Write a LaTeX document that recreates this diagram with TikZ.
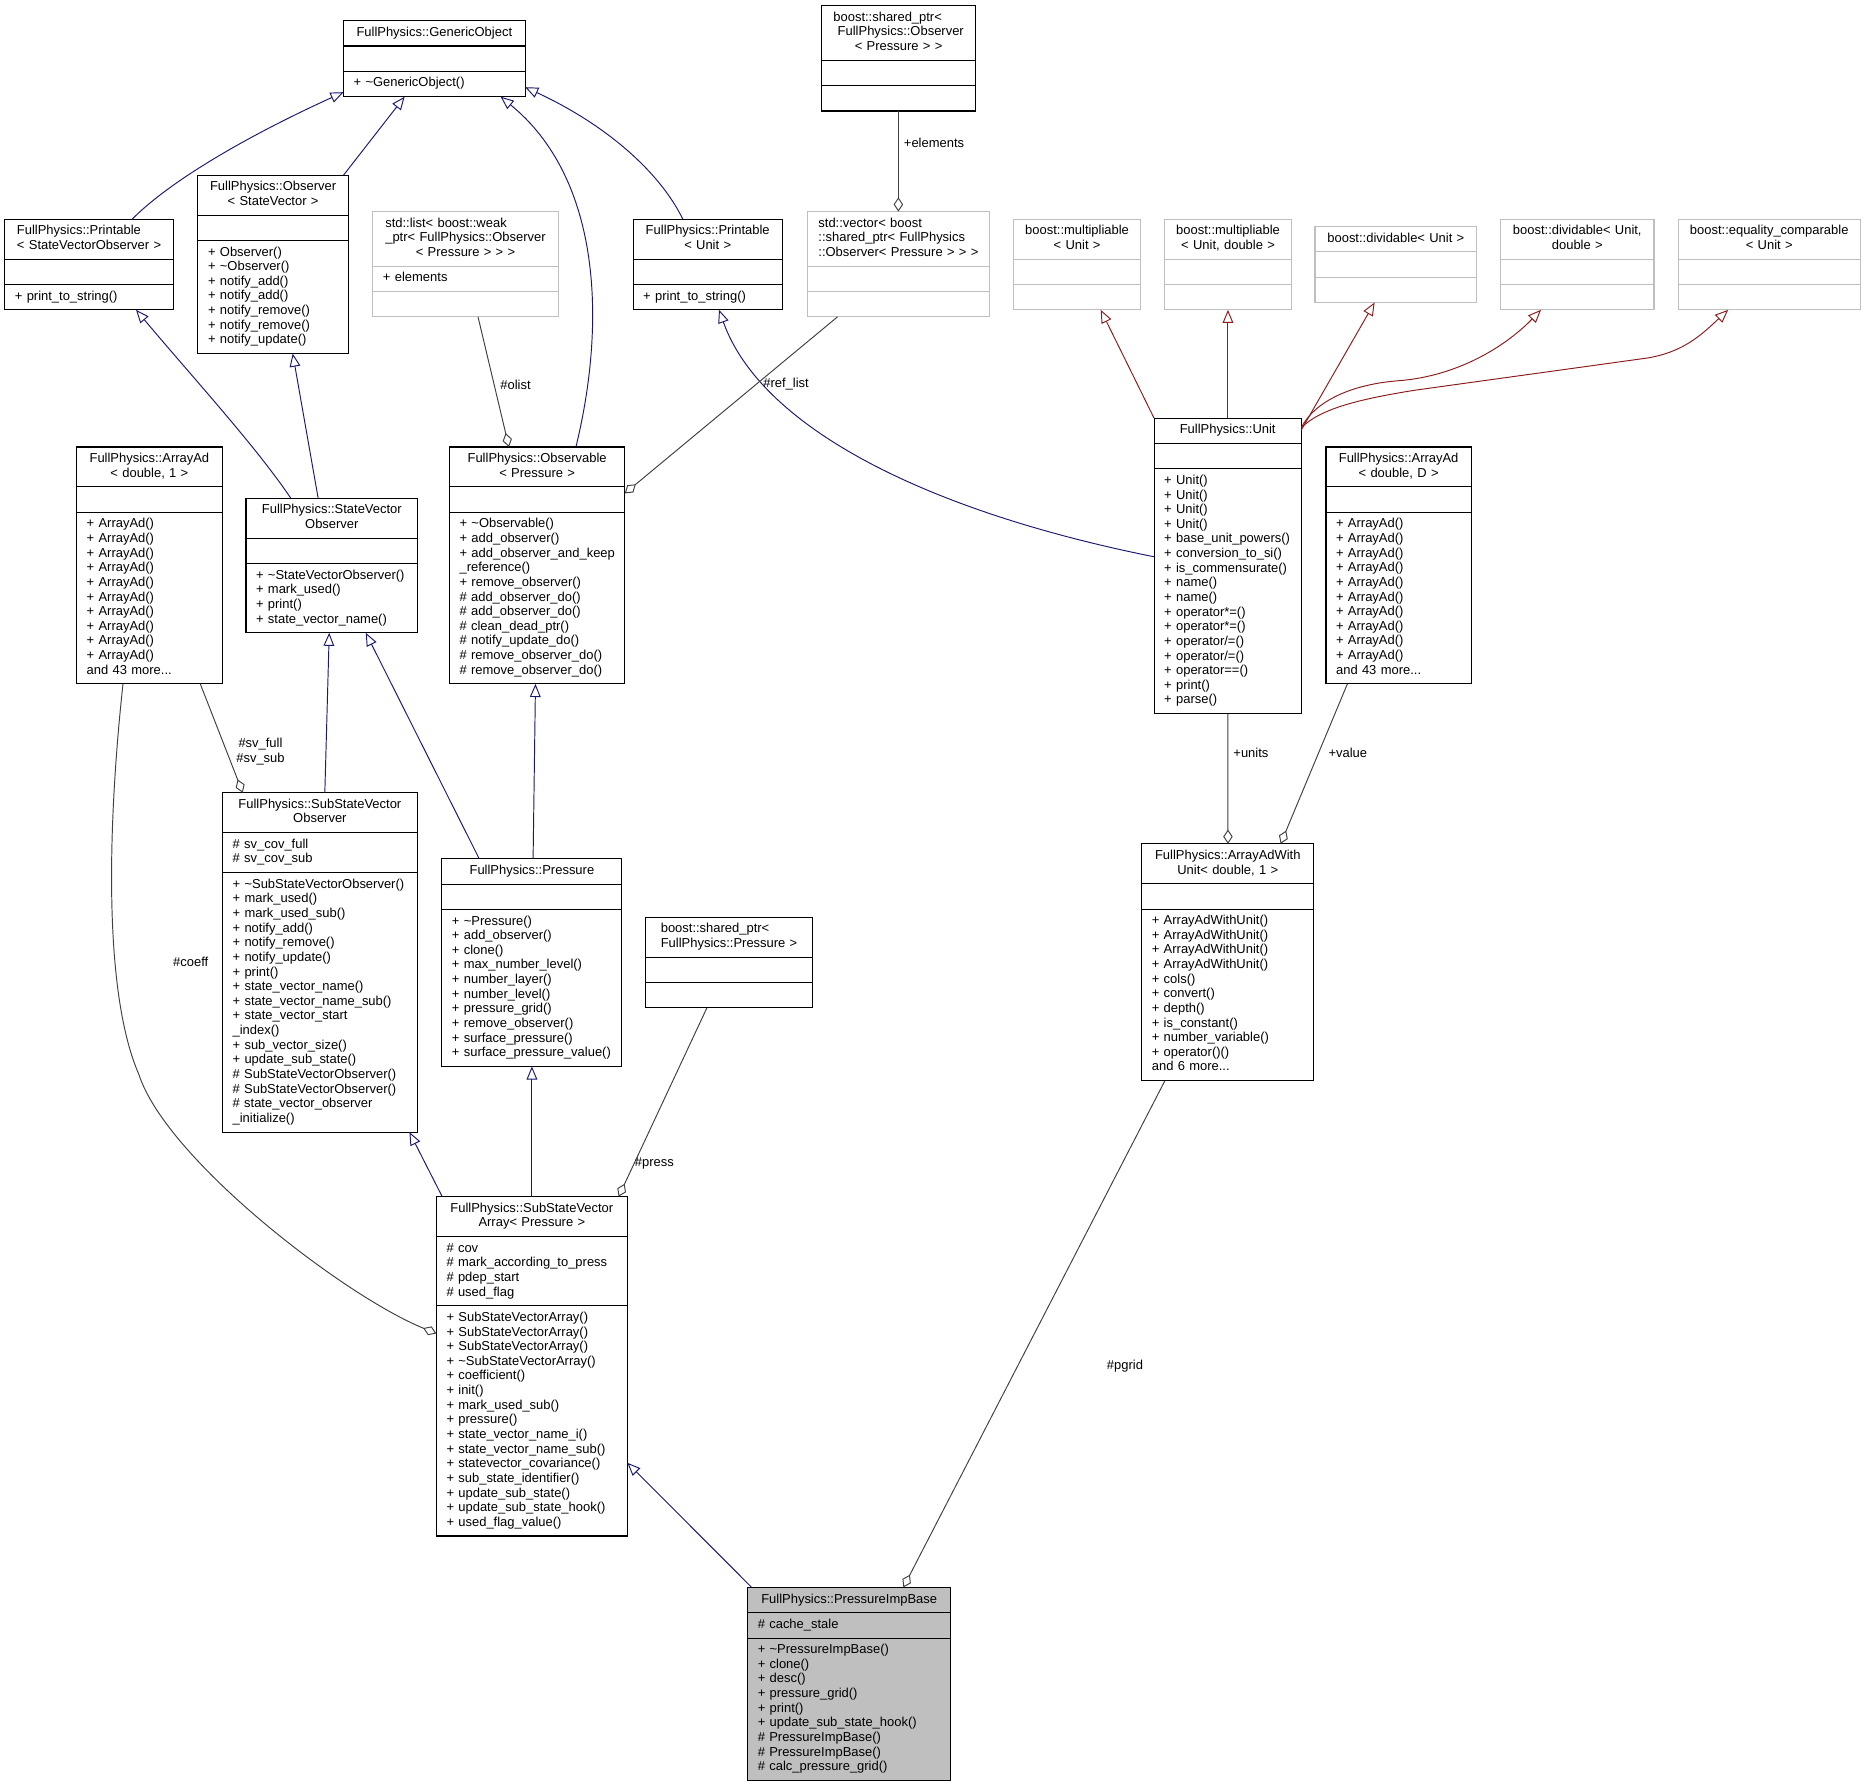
\documentclass[tikz,border=0pt]{standalone}
\usepackage{fontspec}
\setmainfont{Liberation Sans}
\usetikzlibrary{arrows.meta,calc,fit}
\definecolor{navy}{HTML}{191970}
\definecolor{fbrick}{HTML}{8B1A1A}
\definecolor{aggc}{HTML}{404040}
\definecolor{lgray}{HTML}{BFBFBF}
\newcommand\ttlA[2]{\begin{tabular}[t]{@{}l@{}}#1\\\multicolumn{1}{@{}c@{}}{#2}\end{tabular}}
\newcommand\ttlB[1]{\begin{tabular}[t]{@{}c@{}}#1\end{tabular}}
\newcommand\lstA[1]{\begin{tabular}[t]{@{}l@{}}#1\end{tabular}}
\newcommand\umlclass[8]{%
  \pgfmathsetmacro\clsTW{#5-17}%
  \node[sec,#2,align=center,text width=\clsTW pt,anchor=north west] (#1-t) at (#3,#4) {#6};
  \node[sec,#2,align=left,text width=\clsTW pt,anchor=north west] (#1-a) at (#1-t.south west) {#7};
  \node[sec,#2,align=left,text width=\clsTW pt,anchor=north west] (#1-m) at (#1-a.south west) {#8};
  \node[fit=(#1-t)(#1-m),inner sep=0pt,outer sep=0pt] (#1) {};
}
\tikzset{
  sec/.style={draw=black, fill=white, line width=0.9pt, inner xsep=8.5pt, inner ysep=4.5pt, outer sep=0pt, font=\fontsize{10.9}{12.3}\selectfont},
  gbox/.style={draw=lgray},
  ibox/.style={fill=lgray},
  lbl/.style={font=\fontsize{10.9}{12.3}\selectfont, inner sep=1pt},
  inh/.style={draw=navy, line width=0.8pt, -{Triangle[open,length=11pt,width=9pt]}},
  tinh/.style={draw=fbrick, line width=0.8pt, -{Triangle[open,length=11pt,width=9pt]}},
  aggr/.style={draw=aggc, line width=0.8pt, -{Diamond[open,length=12pt,width=8pt]}}
}
\begin{document}
\begin{tikzpicture}[x=1pt,y=-1pt]
\fill[white] (0,0) rectangle (1568,1502);
\useasboundingbox (0,0) rectangle (1568,1502);

\umlclass{go}{}{288.8}{17.4}{152.7}{\ttlB{FullPhysics::GenericObject}}{\strut}{\lstA{+ \textasciitilde GenericObject()}}
\umlclass{psvo}{}{4.0}{184.3}{141.7}{\ttlA{FullPhysics::Printable}{< StateVectorObserver >}}{\strut}{\lstA{+ print\_to\_string()}}
\umlclass{osv}{}{166.4}{147.3}{126.4}{\ttlA{FullPhysics::Observer}{< StateVector >}}{\strut}{\lstA{+ Observer()\\+ \textasciitilde Observer()\\+ notify\_add()\\+ notify\_add()\\+ notify\_remove()\\+ notify\_remove()\\+ notify\_update()}}
\umlclass{slist}{gbox}{313.5}{177.9}{155.7}{\ttlA{std::list< boost::weak\\\_ptr< FullPhysics::Observer}{< Pressure > > >}}{\lstA{+ elements}}{\strut}
\umlclass{aad1}{}{64.4}{375.8}{122.4}{\ttlA{FullPhysics::ArrayAd}{< double, 1 >}}{\strut}{\lstA{+ ArrayAd()\\+ ArrayAd()\\+ ArrayAd()\\+ ArrayAd()\\+ ArrayAd()\\+ ArrayAd()\\+ ArrayAd()\\+ ArrayAd()\\+ ArrayAd()\\+ ArrayAd()\\and 43 more...}}
\umlclass{svo}{}{206.8}{418.9}{144.4}{\ttlA{FullPhysics::StateVector}{Observer}}{\strut}{\lstA{+ \textasciitilde StateVectorObserver()\\+ mark\_used()\\+ print()\\+ state\_vector\_name()}}
\umlclass{obsp}{}{377.9}{375.8}{147.4}{\ttlA{FullPhysics::Observable}{< Pressure >}}{\strut}{\lstA{+ \textasciitilde Observable()\\+ add\_observer()\\+ add\_observer\_and\_keep\\\_reference()\\+ remove\_observer()\\\# add\_observer\_do()\\\# add\_observer\_do()\\\# clean\_dead\_ptr()\\\# notify\_update\_do()\\\# remove\_observer\_do()\\\# remove\_observer\_do()}}
\umlclass{spobs}{}{690.5}{4.8}{130}{\ttlA{boost::shared\_ptr<\\~FullPhysics::Observer}{< Pressure > >}}{\strut}{\strut}
\umlclass{pu}{}{532.3}{184.3}{125.4}{\ttlA{FullPhysics::Printable}{< Unit >}}{\strut}{\lstA{+ print\_to\_string()}}
\umlclass{svec}{gbox}{678.7}{177.9}{153.3}{\ttlA{std::vector< boost\\::shared\_ptr< FullPhysics}{::Observer< Pressure > > >}}{\strut}{\strut}
\umlclass{mu}{gbox}{852.2}{184.3}{106.7}{\ttlA{boost::multipliable}{< Unit >}}{\strut}{\strut}
\umlclass{mud}{gbox}{979.1}{184.3}{106.8}{\ttlA{boost::multipliable}{< Unit, double >}}{\strut}{\strut}
\umlclass{unit}{}{970.3}{351.6}{123.7}{\ttlB{FullPhysics::Unit}}{\strut}{\lstA{+ Unit()\\+ Unit()\\+ Unit()\\+ Unit()\\+ base\_unit\_powers()\\+ conversion\_to\_si()\\+ is\_commensurate()\\+ name()\\+ name()\\+ operator*=()\\+ operator*=()\\+ operator/=()\\+ operator/=()\\+ operator==()\\+ print()\\+ parse()}}
\umlclass{du}{gbox}{1105.6}{190.4}{135.9}{\ttlB{boost::dividable< Unit >}}{\strut}{\strut}
\umlclass{dud}{gbox}{1261.6}{184.3}{129}{\ttlA{boost::dividable< Unit,}{double >}}{\strut}{\strut}
\umlclass{eq}{gbox}{1411.0}{184.3}{152.9}{\ttlA{boost::equality\_comparable}{< Unit >}}{\strut}{\strut}
\umlclass{aadD}{}{1114.8}{375.8}{122.2}{\ttlA{FullPhysics::ArrayAd}{< double, D >}}{\strut}{\lstA{+ ArrayAd()\\+ ArrayAd()\\+ ArrayAd()\\+ ArrayAd()\\+ ArrayAd()\\+ ArrayAd()\\+ ArrayAd()\\+ ArrayAd()\\+ ArrayAd()\\+ ArrayAd()\\and 43 more...}}
\umlclass{ssvo}{}{187.1}{666.5}{163.7}{\ttlA{FullPhysics::SubStateVector}{Observer}}{\lstA{\# sv\_cov\_full\\\# sv\_cov\_sub}}{\lstA{+ \textasciitilde SubStateVectorObserver()\\+ mark\_used()\\+ mark\_used\_sub()\\+ notify\_add()\\+ notify\_remove()\\+ notify\_update()\\+ print()\\+ state\_vector\_name()\\+ state\_vector\_name\_sub()\\+ state\_vector\_start\\\_index()\\+ sub\_vector\_size()\\+ update\_sub\_state()\\\# SubStateVectorObserver()\\\# SubStateVectorObserver()\\\# state\_vector\_observer\\\_initialize()}}
\umlclass{pres}{}{371.5}{722.0}{151.4}{\ttlB{FullPhysics::Pressure}}{\strut}{\lstA{+ \textasciitilde Pressure()\\+ add\_observer()\\+ clone()\\+ max\_number\_level()\\+ number\_layer()\\+ number\_level()\\+ pressure\_grid()\\+ remove\_observer()\\+ surface\_pressure()\\+ surface\_pressure\_value()}}
\umlclass{spp}{}{542.7}{771.2}{140.5}{\ttlA{boost::shared\_ptr<}{FullPhysics::Pressure >}}{\strut}{\strut}
\umlclass{aawu}{}{959.9}{709.4}{144.7}{\ttlA{FullPhysics::ArrayAdWith}{Unit< double, 1 >}}{\strut}{\lstA{+ ArrayAdWithUnit()\\+ ArrayAdWithUnit()\\+ ArrayAdWithUnit()\\+ ArrayAdWithUnit()\\+ cols()\\+ convert()\\+ depth()\\+ is\_constant()\\+ number\_variable()\\+ operator()()\\and 6 more...}}
\umlclass{ssva}{}{366.9}{1006.1}{160.5}{\ttlA{FullPhysics::SubStateVector}{Array< Pressure >}}{\lstA{\# cov\\\# mark\_according\_to\_press\\\# pdep\_start\\\# used\_flag}}{\lstA{+ SubStateVectorArray()\\+ SubStateVectorArray()\\+ SubStateVectorArray()\\+ \textasciitilde SubStateVectorArray()\\+ coefficient()\\+ init()\\+ mark\_used\_sub()\\+ pressure()\\+ state\_vector\_name\_i()\\+ state\_vector\_name\_sub()\\+ statevector\_covariance()\\+ sub\_state\_identifier()\\+ update\_sub\_state()\\+ update\_sub\_state\_hook()\\+ used\_flag\_value()}}
\umlclass{pib}{ibox}{628.6}{1334.6}{170.7}{\ttlB{FullPhysics::PressureImpBase}}{\lstA{\# cache\_stale}}{\lstA{+ \textasciitilde PressureImpBase()\\+ clone()\\+ desc()\\+ pressure\_grid()\\+ print()\\+ update\_sub\_state\_hook()\\\# PressureImpBase()\\\# PressureImpBase()\\\# calc\_pressure\_grid()}}

% inheritance (blue)
\draw[inh] ($(psvo.north west)+(107.1,0)$) .. controls (140,155) and (200,118) .. ($(go.south west)+(0,-3.8)$);
\draw[inh] ($(osv.north west)+(122.4,0)$) -- ($(go.south west)+(51.4,0)$);
\draw[inh] ($(obsp.north west)+(106.3,0)$) .. controls (510,270) and (505,150) .. ($(go.south west)+(132.1,0)$);
\draw[inh] ($(pu.north west)+(41.8,0)$) .. controls (555,145) and (510,105) .. ($(go.south east)+(0,-8)$);
\draw[inh] ($(svo.north west)+(37.7,0)$) .. controls (215,375) and (160,315) .. ($(psvo.south west)+(110.4,0)$);
\draw[inh] ($(svo.north west)+(60.7,0)$) -- ($(osv.south west)+(79.7,0)$);
\draw[inh] ($(ssvo.north west)+(86,0)$) -- ($(svo.south west)+(70,0)$);
\draw[inh] ($(pres.north west)+(31.4,0)$) -- ($(svo.south west)+(100.7,0)$);
\draw[inh] ($(pres.north west)+(76.7,0)$) -- ($(obsp.south west)+(72.3,0)$);
\draw[inh] ($(ssva.north west)+(4.9,0)$) -- ($(ssvo.south west)+(157.1,0)$);
\draw[inh] ($(ssva.north west)+(80.3,0)$) -- ($(pres.south west)+(75.7,0)$);
\draw[inh] ($(pib.north west)+(3.4,0)$) -- ($(ssva.north east)+(0,223.7)$);
\draw[inh] ($(unit.north west)+(0,116.5)$) .. controls (780,430) and (640,360) .. ($(pu.south west)+(72.2,0)$);

% template inheritance (red)
\draw[tinh] (unit.north west) -- ($(mu.south west)+(73.2,0)$);
\draw[tinh] ($(unit.north west)+(62.1,0)$) -- ($(mud.south west)+(53.3,0)$);
\draw[tinh] ($(unit.north east)+(0,10)$) -- ($(du.south west)+(50.1,0)$);
\draw[tinh] ($(unit.north east)+(0,8)$) .. controls (1105,338) and (1135,323) .. (1177,320) .. controls (1225,316) and (1265,292) .. ($(dud.south west)+(34,0)$);
\draw[tinh] ($(unit.north east)+(0,8)$) .. controls (1110,344) and (1140,336) .. (1190,328) -- (1385,301) .. controls (1415,296) and (1430,282) .. ($(eq.south west)+(41.9,0)$);

% aggregation (gray)
\draw[aggr] ($(spobs.south west)+(64.8,0)$) -- ($(svec.north west)+(76.6,0)$);
\draw[aggr] ($(slist.south west)+(88.4,0)$) -- ($(obsp.north west)+(50,0)$);
\draw[aggr] ($(svec.south west)+(25.4,0)$) -- ($(obsp.north east)+(0,39)$);
\draw[aggr] ($(aad1.south west)+(104,0)$) -- ($(ssvo.north west)+(17,0)$);
\draw[aggr] ($(aad1.south west)+(39,0)$) .. controls (92,680) and (85,830) .. (116.7,903.2) .. controls (140,975) and (290,1090) .. ($(ssva.north west)+(0,115)$);
\draw[aggr] ($(spp.south west)+(51.6,0)$) -- ($(ssva.north west)+(153.2,0)$);
\draw[aggr] ($(unit.south west)+(62.1,0)$) -- ($(aawu.north west)+(72.5,0)$);
\draw[aggr] ($(aadD.south west)+(18,0)$) -- ($(aawu.north west)+(116.8,0)$);
\draw[aggr] ($(aawu.south west)+(19.5,0)$) -- ($(pib.north west)+(130.9,0)$);

% labels
\node[lbl,anchor=west] (l-elem) at (758.8,119.7) {+elements};
\node[lbl] (l-olist) at (433.4,323.3) {\#olist};
\node[lbl] (l-ref) at (660.9,323.3) {\#ref\_list};
\node[lbl,align=center] (l-sv) at (219,632) {\#sv\_full\\\#sv\_sub};
\node[lbl] (l-coeff) at (160.4,808.5) {\#coeff};
\node[lbl] (l-press) at (550.2,978.4) {\#press};
\node[lbl,anchor=west] (l-units) at (1035.8,632.9) {+units};
\node[lbl,anchor=west] (l-value) at (1115.8,632.9) {+value};
\node[lbl] (l-pgrid) at (945.8,1148.2) {\#pgrid};
\end{tikzpicture}
\end{document}
